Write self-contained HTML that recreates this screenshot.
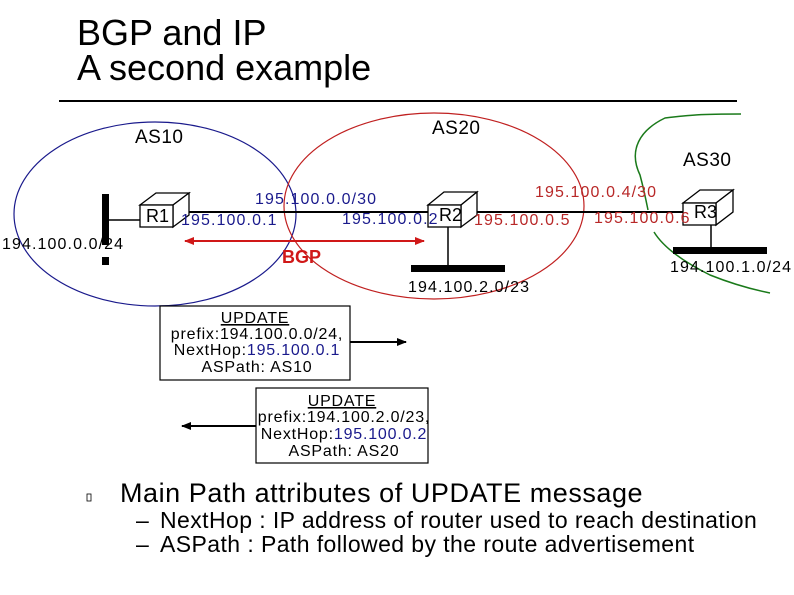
<!DOCTYPE html>
<html><head><meta charset="utf-8"><style>
html,body{margin:0;padding:0;background:#fff;}
svg{display:block;font-family:"Liberation Sans",Arial,sans-serif;}
</style></head><body>
<svg width="794" height="595" viewBox="0 0 794 595" xmlns="http://www.w3.org/2000/svg">
<defs>
<marker id="ar" markerWidth="10" markerHeight="8" refX="9" refY="4" orient="auto" markerUnits="userSpaceOnUse"><path d="M0,0 L10,4 L0,8 z" fill="#d01818"/></marker>
<marker id="al" markerWidth="10" markerHeight="8" refX="1" refY="4" orient="auto" markerUnits="userSpaceOnUse"><path d="M10,0 L0,4 L10,8 z" fill="#d01818"/></marker>
<marker id="bk" markerWidth="10" markerHeight="8" refX="9" refY="4" orient="auto" markerUnits="userSpaceOnUse"><path d="M0,0 L10,4 L0,8 z" fill="#000"/></marker>
</defs>
<text x="77" y="45" font-size="36">BGP and IP</text>
<text x="77" y="80" font-size="36">A second example</text>
<line x1="59" y1="101" x2="737" y2="101" stroke="#000" stroke-width="2"/>

<ellipse cx="155" cy="214" rx="141" ry="92" fill="none" stroke="#1a1a8c" stroke-width="1.2"/>
<ellipse cx="434" cy="206" rx="150" ry="93" fill="none" stroke="#c02020" stroke-width="1.2"/>
<path d="M741,114 C700,114 690,115 665,118 C640,130 628,150 640,175 C644,190 646,200 648,210" fill="none" stroke="#1a7a1a" stroke-width="1.5"/>
<path d="M654,232 C665,250 690,265 710,275 C735,285 755,290 770,293" fill="none" stroke="#1a7a1a" stroke-width="1.5"/>

<g font-size="19" letter-spacing="0.5">
<text x="135" y="143">AS10</text>
<text x="432" y="134">AS20</text>
<text x="683" y="166">AS30</text>
</g>

<line x1="173" y1="212" x2="683" y2="212" stroke="#000" stroke-width="2"/>
<rect x="102" y="194" width="7" height="51" fill="#000"/>
<rect x="102" y="257" width="7" height="8" fill="#000"/>
<line x1="109" y1="220" x2="140" y2="220" stroke="#000" stroke-width="1.5"/>
<line x1="448" y1="227" x2="448" y2="268" stroke="#000" stroke-width="1.5"/>
<rect x="411" y="265" width="94" height="7" fill="#000"/>
<line x1="711" y1="225" x2="711" y2="248" stroke="#000" stroke-width="1.5"/>
<rect x="673" y="247" width="94" height="7" fill="#000"/>

<g fill="#fff" stroke="#000" stroke-width="1.3">
<path d="M140,205 L156,193 L189,193 L173,205 z"/><path d="M173,205 L189,193 L189,215 L173,227 z"/><rect x="140" y="205" width="33" height="22"/>
<path d="M428,205 L444,192 L477,192 L461,205 z"/><path d="M461,205 L477,192 L477,215 L461,227 z"/><rect x="428" y="205" width="33" height="22"/>
<path d="M683,203 L700,190 L733,190 L716,203 z"/><path d="M716,203 L733,190 L733,212 L716,225 z"/><rect x="683" y="203" width="33" height="22"/>
</g>
<g font-size="18">
<text x="146" y="222">R1</text>
<text x="439" y="221">R2</text>
<text x="694" y="218">R3</text>
</g>

<g font-size="16" letter-spacing="1.1" fill="#1a1a8c">
<text x="255" y="204">195.100.0.0/30</text>
<text x="181" y="225">195.100.0.1</text>
<text x="342" y="224">195.100.0.2</text>
</g>
<g font-size="16" letter-spacing="1.1" fill="#b82828">
<text x="535" y="197">195.100.0.4/30</text>
<text x="474" y="225">195.100.0.5</text>
<text x="594" y="223">195.100.0.6</text>
</g>
<g font-size="16" letter-spacing="1.1" fill="#000">
<text x="2" y="249">194.100.0.0/24</text>
<text x="408" y="292">194.100.2.0/23</text>
<text x="670" y="272">194.100.1.0/24</text>
</g>

<line x1="185" y1="241" x2="424" y2="241" stroke="#d01818" stroke-width="2" marker-end="url(#ar)" marker-start="url(#al)"/>
<text x="282" y="263" font-size="18" font-weight="bold" fill="#d01818">BGP</text>

<rect x="160" y="306" width="190" height="74" fill="#fff" stroke="#000" stroke-width="1.2"/>
<g font-size="16" letter-spacing="0.8" text-anchor="middle">
<text x="255" y="323" text-decoration="underline">UPDATE</text>
<text x="257" y="339">prefix:194.100.0.0/24,</text>
<text x="257" y="355">NextHop:<tspan fill="#1a1a8c">195.100.0.1</tspan></text>
<text x="257" y="372">ASPath: AS10</text>
</g>
<line x1="350" y1="342" x2="406" y2="342" stroke="#000" stroke-width="2" marker-end="url(#bk)"/>

<rect x="256" y="388" width="172" height="75" fill="#fff" stroke="#000" stroke-width="1.2"/>
<g font-size="16" letter-spacing="0.8" text-anchor="middle">
<text x="342" y="406" text-decoration="underline">UPDATE</text>
<text x="344" y="422">prefix:194.100.2.0/23,</text>
<text x="344" y="439">NextHop:<tspan fill="#1a1a8c">195.100.0.2</tspan></text>
<text x="344" y="456">ASPath: AS20</text>
</g>
<line x1="256" y1="426" x2="182" y2="426" stroke="#000" stroke-width="2" marker-end="url(#bk)"/>

<rect x="87" y="494" width="4" height="7" fill="none" stroke="#000" stroke-width="0.8"/>
<text x="120" y="502" font-size="27" letter-spacing="0.55">Main Path attributes of UPDATE message</text>
<text x="136" y="528" font-size="23">–</text>
<text x="160" y="528" font-size="23" letter-spacing="0.42">NextHop : IP address of router used to reach destination</text>
<text x="136" y="552" font-size="23">–</text>
<text x="160" y="552" font-size="23" letter-spacing="0.42">ASPath : Path followed by the route advertisement</text>
</svg>
</body></html>
